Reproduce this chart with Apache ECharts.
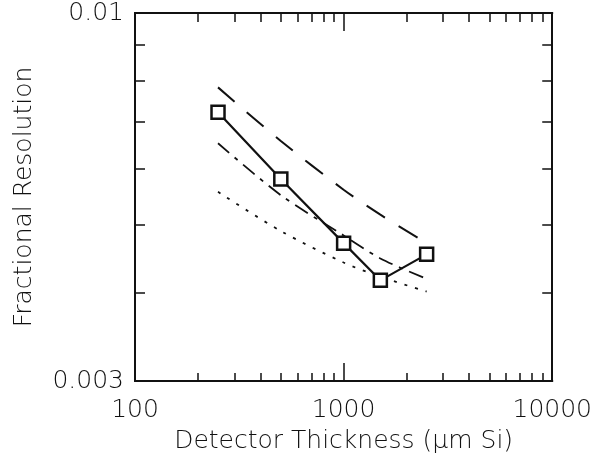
<!DOCTYPE html>
<html>
<head>
<meta charset="utf-8">
<script src="https://cdn.jsdelivr.net/npm/echarts@6/dist/echarts.min.js"></script>
<style>
  html, body { margin: 0; padding: 0; background: #fff; }
  #chart { width: 595px; height: 459px; }
</style>
</head>
<body>
<div id="chart"></div>
<script>
// 探测器厚度 (μm Si)
var thickness = [250, 500, 1000, 1500, 2500];
// 测量值（方框）
var measured = [0.00723, 0.00581, 0.00471, 0.00417, 0.00454];
// 长虚线
var longDash = [0.00784, 0.00658, 0.00561, 0.00517, 0.00471];
// 点划线
var dashDot = [0.00653, 0.00551, 0.00483, 0.00448, 0.00419];
// 点线
var dotted = [0.00557, 0.00490, 0.00442, 0.00422, 0.00402];

var xLabels = [100, 1000, 10000];
var xMinorTicks = [200, 300, 400, 500, 600, 700, 800, 900, 2000, 3000, 4000, 5000, 6000, 7000, 8000, 9000];
var xMajorTicks = [1000];
var yLabels = [0.003, 0.01];
var yMinorTicks = [0.004, 0.005, 0.006, 0.007, 0.008, 0.009];

function pairs(xs, ys) {
    var out = [];
    for (var i = 0; i < xs.length; i++) {
        out.push([xs[i], ys[i]]);
    }
    return out;
}

var font = 'DejaVu Sans';
var ink = '#111';
var fontSize = 25;

function xAxisDef(pos, ticks, len, withLabels) {
    return {
        type: 'log',
        logBase: 10,
        min: 100,
        max: 10000,
        position: pos,
        axisLine: { show: true, onZero: false, lineStyle: { color: ink, width: 2 } },
        axisTick: { show: true, inside: true, length: len, customValues: ticks, lineStyle: { color: ink, width: 1.5 } },
        axisLabel: withLabels ? {
            show: true, customValues: xLabels, margin: 17,
            fontFamily: font, fontWeight: 200, fontSize: fontSize, color: ink,
            formatter: function (v) { return String(Math.round(v)); }
        } : { show: false },
        splitLine: { show: false },
        name: withLabels ? 'Detector Thickness (\u03bcm Si)' : '',
        nameLocation: 'middle',
        nameGap: 48,
        nameTextStyle: { fontFamily: font, fontWeight: 200, fontSize: fontSize, color: ink }
    };
}

function yAxisDef(pos, withLabels) {
    return {
        type: 'log',
        logBase: 10,
        min: 0.003,
        max: 0.01,
        position: pos,
        axisLine: { show: true, onZero: false, lineStyle: { color: ink, width: 2 } },
        axisTick: { show: true, inside: true, length: 10, customValues: yMinorTicks, lineStyle: { color: ink, width: 1.5 } },
        axisLabel: withLabels ? {
            show: true, customValues: yLabels, margin: 11,
            fontFamily: font, fontWeight: 200, fontSize: fontSize, color: ink,
            formatter: function (v) { return v >= 0.0099 ? '0.01' : '0.003'; }
        } : { show: false },
        splitLine: { show: false },
        name: withLabels ? 'Fractional Resolution' : '',
        nameLocation: 'middle',
        nameGap: 98,
        nameTextStyle: { fontFamily: font, fontWeight: 200, fontSize: fontSize, color: ink }
    };
}

var myChart = echarts.init(document.getElementById('chart'), null, { renderer: 'canvas' });
var option = {
    animation: false,
    backgroundColor: '#fff',
    grid: { left: 135, right: 35, top: 13, bottom: 73 },
    xAxis: [
        xAxisDef('bottom', xMinorTicks, 8, true),
        xAxisDef('bottom', xMajorTicks, 18, false),
        xAxisDef('top', xMinorTicks, 9, false),
        xAxisDef('top', xMajorTicks, 18, false)
    ],
    yAxis: [
        yAxisDef('left', true),
        yAxisDef('right', false)
    ],
    series: [
        {
            name: 'measured',
            type: 'line',
            data: pairs(thickness, measured),
            symbol: 'rect',
            symbolSize: 13,
            itemStyle: { color: '#fff', borderColor: ink, borderWidth: 2.5 },
            lineStyle: { color: ink, width: 2.2, type: 'solid' },
            z: 5
        },
        {
            name: 'long dash',
            type: 'line',
            data: pairs(thickness, longDash),
            showSymbol: false,
            smooth: 0.3,
            lineStyle: { color: ink, width: 2, type: [22, 16] }
        },
        {
            name: 'dash dot',
            type: 'line',
            data: pairs(thickness, dashDot),
            showSymbol: false,
            smooth: 0.3,
            lineStyle: { color: ink, width: 1.8, type: [15, 7, 4, 7] }
        },
        {
            name: 'dotted',
            type: 'line',
            data: pairs(thickness, dotted),
            showSymbol: false,
            smooth: 0.3,
            lineStyle: { color: ink, width: 1.8, type: [3, 8] }
        }
    ]
};
myChart.setOption(option);
</script>
</body>
</html>
